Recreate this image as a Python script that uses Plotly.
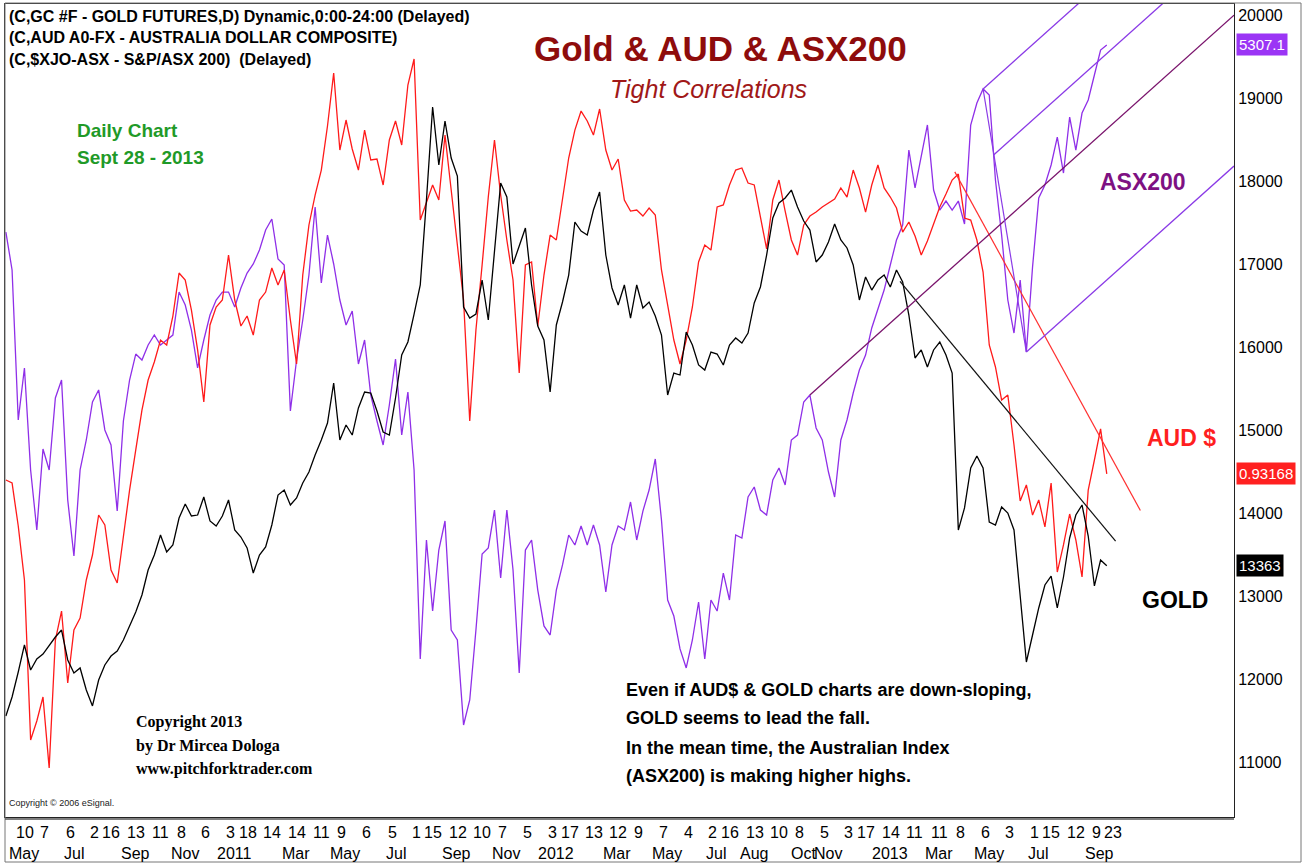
import pandas as pd
import plotly.graph_objects as go

# ---------------- data (weekly closes) ----------------
dates = pd.date_range("2010-04-30", periods=179, freq="7D")

gold = [
    11553, 11782, 12083, 12409, 12107, 12240, 12300, 12409, 12505, 12589,
    12228, 12071, 12132, 11866, 11674, 11987, 12168, 12276, 12336, 12469,
    12638, 12806, 13011, 13312, 13493, 13734, 13529, 13614, 13939, 14108,
    13963, 13975, 14192, 13903, 13843, 13963, 14156, 13795, 13710, 13578,
    13276, 13493, 13590, 13855, 14216, 14276, 14096, 14180, 14361, 14493,
    14698, 14879, 15084, 15566, 14879, 15060, 14939, 15265, 15457, 15445,
    15228, 14975, 14939, 15385, 15903, 16060, 16397, 16747, 17771, 18892,
    18193, 18723, 18277, 18060, 16482, 16349, 16397, 16807, 16325, 17168,
    17976, 17807, 17000, 17217, 17434, 16747, 16253, 16084, 15457, 16265,
    16542, 16867, 17506, 17397, 17349, 17650, 17867, 17108, 16711, 16506,
    16747, 16349, 16747, 16470, 16542, 16373, 16144, 15421, 15686, 15662,
    16180, 16024, 15783, 15722, 15939, 15915, 15783, 16024, 16108, 16048,
    16168, 16530, 16723, 17108, 17554, 17735, 17795, 17891, 17687, 17518,
    17409, 17024, 17108, 17265, 17482, 17289, 17193, 16988, 16566, 16843,
    16686, 16807, 16867, 16723, 16928, 16783, 16385, 15867, 15964, 15759,
    15964, 16060, 15903, 15686, 13795, 14060, 14542, 14686, 14542, 13891,
    13855, 14072, 13999, 13795, 13011, 12204, 12529, 12855, 13132, 13240,
    12855, 13228, 13698, 13975, 14096, 13722, 13120, 13433, 13363,
]

aud = [
    14397, 14361, 13843, 13192, 11264, 11493, 11782, 10927, 12469, 12818,
    11951, 12589, 12734, 13192, 13493, 13975, 13855, 13312, 13156, 13734,
    14276, 14759, 15240, 15602, 15819, 16084, 16024, 16373, 16891, 16807,
    16445, 15964, 15337, 16265, 16482, 16566, 17108, 16566, 16253, 16373,
    16144, 16566, 16662, 16952, 16747, 16928, 16325, 15795, 16867, 17470,
    17831, 18132, 18663, 19301, 18373, 18735, 18386, 18132, 18614, 18253,
    18265, 17952, 18494, 18723, 18434, 19157, 19470, 17530, 17747, 17952,
    17771, 18554, 17891, 17229, 16566, 15108, 16204, 16988, 17807, 18494,
    17831, 17289, 16807, 15686, 16988, 17024, 16253, 16867, 17349, 17289,
    17771, 18277, 18614, 18843, 18723, 18554, 18868, 18373, 18132, 18265,
    17771, 17638, 17650, 17578, 17675, 17590, 16928, 16482, 16084, 15795,
    16084, 16482, 17024, 17229, 17168, 17687, 17711, 17952, 18132, 18157,
    17976, 17952, 17554, 17181, 17771, 18012, 17638, 17289, 17108, 17470,
    17578, 17626, 17687, 17735, 17783, 17916, 17807, 18132, 17916, 17626,
    17952, 18193, 17916, 17807, 17675, 17385, 17506, 17337, 17108, 17277,
    17482, 17687, 17843, 18012, 18084, 17554, 17530, 17289, 16903, 16024,
    15759, 15361, 15421, 14819, 14144, 14337, 13975, 14156, 13831, 14361,
    13288, 13614, 13987, 13674, 13228, 14276, 14638, 15012, 14470,
]

asx = [
    17385, 16928, 15120, 15747, 14518, 13795, 14771, 14518, 15385, 15602,
    14156, 13481, 14518, 14879, 15337, 15482, 15000, 14819, 14023, 15108,
    15602, 15915, 15843, 16024, 16144, 16024, 16084, 16144, 16662, 16506,
    16204, 15747, 16084, 16385, 16566, 16662, 16662, 16482, 16711, 16891,
    17000, 17168, 17409, 17542, 17060, 16988, 15228, 15843, 16325, 16867,
    17687, 16771, 17349, 17000, 16566, 16265, 16433, 15795, 16084, 15421,
    15108, 14819, 15301, 15855, 14939, 15457, 14518, 12240, 13674, 12818,
    13553, 13903, 12589, 12469, 11445, 11746, 12589, 13505, 13578, 14035,
    13216, 14035, 13312, 12071, 13553, 13674, 13071, 12638, 12529, 13071,
    13373, 13734, 13614, 13843, 13614, 13855, 13614, 13047, 13614, 13843,
    13795, 14132, 13674, 14023, 14276, 14650, 13915, 12951, 12758, 12361,
    12132, 12469, 12927, 12240, 12951, 12818, 13276, 12951, 13734, 13698,
    14192, 14313, 14035, 13975, 14397, 14542, 14337, 14879, 14939, 15337,
    15421, 15024, 14879, 14493, 14192, 14879, 15120, 15445, 15722, 15903,
    16229, 16445, 16686, 16988, 17289, 17470, 18373, 17916, 18301, 18675,
    17891, 17650, 17759, 17650, 17759, 17482, 18675, 18940, 19109, 19036,
    18012, 17349, 16566, 16168, 16807, 15939, 16964, 17795, 17952, 18193,
    18530, 18096, 18771, 18373, 18819, 18976, 19277, 19578, 19639,
]

last_labels = ["5307.1", "0.93168", "13363"]

# trend lines (date, value) and pitchfork pivots (A, B, C) on the ASX200 series
gold_trend_dates = ["2013-02-05", "2013-10-07"]
gold_trend_vals = [16790, 13660]
aud_trend_dates = ["2013-04-08", "2013-11-04"]
aud_trend_vals = [18110, 14030]
pitchfork_pivots = ["2012-10-26", "2013-05-10", "2013-06-28"]

# axis labels
day_ticks = [
    "2010-05-10", "2010-06-07", "2010-07-06", "2010-08-02", "2010-08-16", "2010-09-13",
    "2010-10-11", "2010-11-08", "2010-12-06", "2011-01-03", "2011-01-18", "2011-02-14",
    "2011-03-14", "2011-04-11", "2011-05-09", "2011-06-06", "2011-07-05", "2011-08-01",
    "2011-08-15", "2011-09-12", "2011-10-10", "2011-11-07", "2011-12-05", "2012-01-03",
    "2012-01-17", "2012-02-13", "2012-03-12", "2012-04-09", "2012-05-07", "2012-06-04",
    "2012-07-02", "2012-07-16", "2012-08-13", "2012-09-10", "2012-10-08", "2012-11-05",
    "2012-12-03", "2012-12-17", "2013-01-14", "2013-02-11", "2013-03-11", "2013-04-08",
    "2013-05-06", "2013-06-03", "2013-07-01", "2013-07-15", "2013-08-12", "2013-09-09",
    "2013-09-23",
]
month_ticks = [
    "2010-05-10", "2010-07-06", "2010-09-13", "2010-11-08", "2011-01-03", "2011-03-14",
    "2011-05-09", "2011-07-05", "2011-09-12", "2011-11-07", "2012-01-03", "2012-03-12",
    "2012-05-07", "2012-07-02", "2012-08-13", "2012-10-08", "2012-11-05", "2013-01-14",
    "2013-03-11", "2013-05-06", "2013-07-01", "2013-09-09",
]
month_text = [
    "May", "Jul", "Sep", "Nov", "2011", "Mar", "May", "Jul", "Sep", "Nov", "2012", "Mar",
    "May", "Jul", "Aug", "Oct", "Nov", "2013", "Mar", "May", "Jul", "Sep",
]
y_ticks = list(range(11000, 20001, 1000))

# ---------------- styling ----------------
SANS = "Liberation Sans, Arial, sans-serif"
SERIF = "Liberation Serif, Times New Roman, serif"
C_GOLD = "#000000"
C_AUD = "#ff1a1a"
C_ASX = "#8f2fe8"
C_FORK = "#8a3ae6"
C_MEDIAN = "#7a146c"

X_RANGE = ["2010-04-29", "2014-02-18"]
Y_RANGE = [10336, 20133]

W, H = 1308, 865
L, R, T, B = 5, 74, 4, 48
PW, PH = W - L - R, H - T - B


def px(x):
    return (x - L) / PW


def py(y):
    return (H - B - y) / PH


fig = go.Figure()

fig.add_trace(go.Scatter(x=dates, y=asx, mode="lines", line=dict(color=C_ASX, width=1.3),
                         name="ASX200", showlegend=False))
fig.add_trace(go.Scatter(x=dates, y=aud, mode="lines", line=dict(color=C_AUD, width=1.3),
                         name="AUD", showlegend=False))
fig.add_trace(go.Scatter(x=dates, y=gold, mode="lines", line=dict(color=C_GOLD, width=1.3),
                         name="Gold", showlegend=False))

# trend lines
fig.add_trace(go.Scatter(x=pd.to_datetime(gold_trend_dates), y=gold_trend_vals, mode="lines",
                         line=dict(color="#111111", width=1.2), showlegend=False))
fig.add_trace(go.Scatter(x=pd.to_datetime(aud_trend_dates), y=aud_trend_vals, mode="lines",
                         line=dict(color="#ff3030", width=1.2), showlegend=False))

# Andrews pitchfork on the ASX200
asx_s = pd.Series(asx, index=dates)
piv = pd.to_datetime(pitchfork_pivots)
A = (piv[0], asx_s[piv[0]])
Bp = (piv[1], asx_s[piv[1]])
Cp = (piv[2], asx_s[piv[2]])
mid = (Bp[0] + (Cp[0] - Bp[0]) / 2, (Bp[1] + Cp[1]) / 2)
slope = (mid[1] - A[1]) / ((mid[0] - A[0]) / pd.Timedelta(days=1))
end_d = pd.Timestamp(X_RANGE[1])
quarter = (Bp[0] + (Cp[0] - Bp[0]) * 0.25, Bp[1] + (Cp[1] - Bp[1]) * 0.25)


def ray(p):
    days = (end_d - p[0]) / pd.Timedelta(days=1)
    return [p[0], end_d], [p[1], p[1] + slope * days]


for p, col in [(A, C_MEDIAN), (Bp, C_FORK), (Cp, C_FORK), (quarter, C_FORK)]:
    xs, ys = ray(p)
    fig.add_trace(go.Scatter(x=xs, y=ys, mode="lines", line=dict(color=col, width=1.3),
                             showlegend=False))
fig.add_trace(go.Scatter(x=[Bp[0], Cp[0]], y=[Bp[1], Cp[1]], mode="lines",
                         line=dict(color=C_FORK, width=1.2), showlegend=False))

ann = []


def text(x, y, t, size, color="#000", family=SANS, weight="bold", style="normal",
         xanchor="left"):
    ann.append(dict(x=px(x), y=py(y), xref="paper", yref="paper", text=t, showarrow=False,
                    xanchor=xanchor, yanchor="middle",
                    font=dict(family=family, size=size, color=color, weight=weight,
                              style=style)))


# header
text(7, 16, "(C,GC #F - GOLD FUTURES,D) Dynamic,0:00-24:00 (Delayed)", 16)
text(7, 38, "(C,AUD A0-FX - AUSTRALIA DOLLAR COMPOSITE)", 16)
text(7, 60, "(C,$XJO-ASX - S&P/ASX 200)  (Delayed)", 16)
# titles
text(720, 48, "Gold & AUD & ASX200", 35, color="#8e0c0c", xanchor="center")
text(708, 89, "Tight Correlations", 25, color="#a01818", weight="normal", style="italic",
     xanchor="center")
text(75, 130, "Daily Chart", 19, color="#1f9a28")
text(75, 157, "Sept 28 - 2013", 19, color="#1f9a28")
# series labels
text(1098, 182, "ASX200", 23, color="#7e1182")
text(1145, 438, "AUD $", 23, color="#ff1f1f")
text(1140, 600, "GOLD", 23, color="#000")
# comment block
for yy, line in zip([690, 718, 748, 776], [
        "Even if AUD$ & GOLD charts are down-sloping,",
        "GOLD seems to lead the fall.",
        "In the mean time, the Australian Index",
        "(ASX200) is making higher highs."]):
    text(624, yy, line, 18)
# copyright
for yy, line in zip([722, 746, 769], ["Copyright 2013", "by Dr Mircea Dologa",
                                       "www.pitchforktrader.com"]):
    text(134, yy, line, 16, family=SERIF)
text(7, 803, "Copyright © 2006 eSignal.", 9, color="#222", weight="normal")

# x-axis labels (two rows)
for d in day_ticks:
    ann.append(dict(x=d, y=py(832), xref="x", yref="paper", text=str(pd.Timestamp(d).day),
                    showarrow=False, xanchor="left", yanchor="middle", xshift=-1,
                    font=dict(family=SANS, size=16, color="#000")))
for d, t in zip(month_ticks, month_text):
    ann.append(dict(x=d, y=py(853), xref="x", yref="paper", text=t, showarrow=False,
                    xanchor="center", yanchor="middle", xshift=9,
                    font=dict(family=SANS, size=16, color="#000")))

# last-value boxes on the price scale
for val, lab, bg in zip([asx[-1], aud[-1], gold[-1]], last_labels,
                        ["#9b35f5", "#ff2020", "#000000"]):
    ann.append(dict(x=px(1236), y=val, xref="paper", yref="y", text=lab, showarrow=False,
                    xanchor="left", yanchor="middle", bgcolor=bg, borderpad=2,
                    font=dict(family=SANS, size=15, color="#ffffff")))

shapes = [
    dict(type="rect", xref="paper", yref="paper", x0=px(5), x1=px(1301), y0=py(862),
         y1=py(3), line=dict(color="#777", width=1), fillcolor="rgba(0,0,0,0)"),
    dict(type="line", xref="paper", yref="paper", x0=px(5), x1=px(1234), y0=py(819),
         y1=py(819), line=dict(color="#555", width=1.5)),
]

fig.update_layout(
    width=W, height=H, margin=dict(l=L, r=R, t=T, b=B),
    paper_bgcolor="#ffffff", plot_bgcolor="#ffffff",
    showlegend=False, annotations=ann, shapes=shapes,
    xaxis=dict(type="date", range=X_RANGE, showticklabels=False, ticks="", showgrid=False,
               zeroline=False, showline=True, mirror=True, linecolor="#222", linewidth=1),
    yaxis=dict(side="right", range=Y_RANGE, tickvals=y_ticks, tickformat="d", ticks="",
               showgrid=False, zeroline=False, showline=True, mirror=True,
               linecolor="#222", linewidth=1,
               tickfont=dict(family=SANS, size=16, color="#000")),
)

fig.write_html("out.html", config={"displayModeBar": False},
               post_script="document.body.style.margin='0';document.body.style.overflow='hidden';")
